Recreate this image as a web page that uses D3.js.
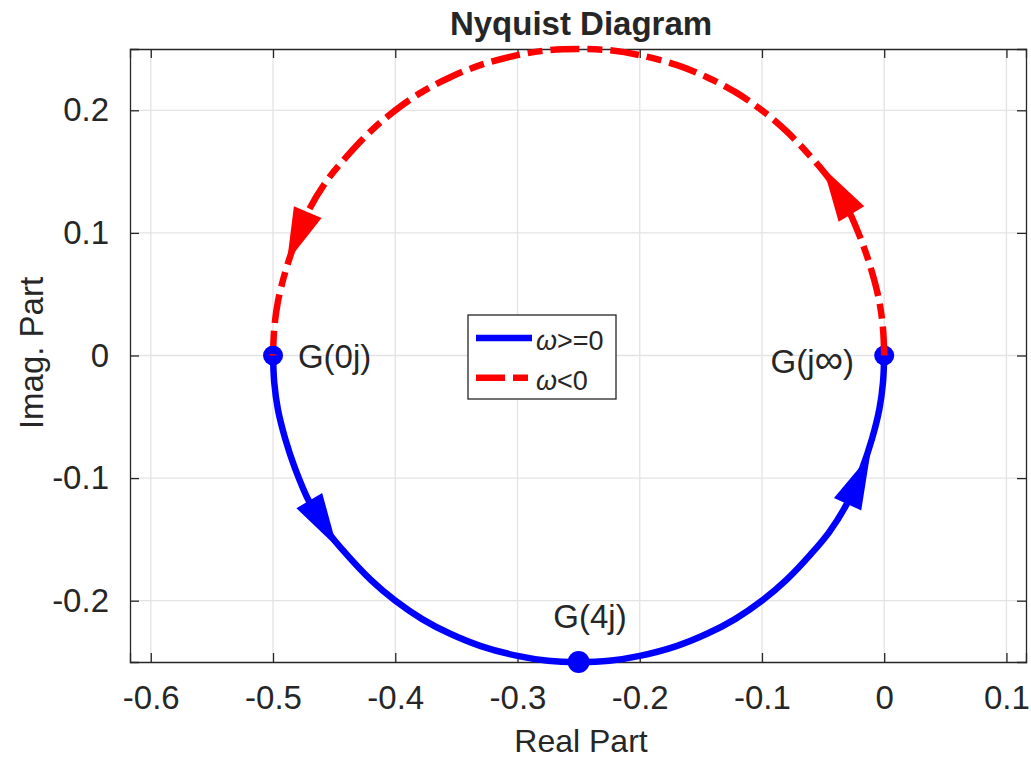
<!DOCTYPE html>
<html>
<head>
<meta charset="utf-8">
<script src="https://cdn.jsdelivr.net/npm/d3@7"></script>
<style>
  body { margin: 0; background: #fff; }
  text { font-family: "Liberation Sans", Arial, Helvetica, sans-serif; fill: #262626; }
</style>
</head>
<body>
<svg id="chart" width="1031" height="759"></svg>
<script>
// Nyquist curve, omega >= 0 (G(0j) -> G(4j) -> G(j inf))
var posReal = [-0.5, -0.499, -0.496, -0.49, -0.482, -0.47, -0.455, -0.44, -0.42, -0.4, -0.378, -0.355, -0.33, -0.3, -0.275, -0.25,
  -0.225, -0.2, -0.17, -0.145, -0.122, -0.1, -0.08, -0.06, -0.045, -0.03, -0.018, -0.01, -0.004, -0.001, 0];
var posImag = [0, -0.022, -0.044, -0.068, -0.092, -0.12, -0.144, -0.162, -0.183, -0.2, -0.215, -0.227, -0.237, -0.245, -0.249, -0.25,
  -0.249, -0.245, -0.237, -0.227, -0.215, -0.2, -0.183, -0.162, -0.144, -0.12, -0.092, -0.068, -0.044, -0.022, 0];

// Nyquist curve, omega < 0 (G(-j inf) -> G(0j))
var negReal = [0, -0.001, -0.004, -0.01, -0.018, -0.03, -0.045, -0.06, -0.08, -0.1, -0.122, -0.145, -0.17, -0.2, -0.225, -0.25,
  -0.275, -0.3, -0.33, -0.355, -0.378, -0.4, -0.42, -0.44, -0.455, -0.47, -0.482, -0.49, -0.496, -0.499, -0.5];
var negImag = [0, 0.022, 0.044, 0.068, 0.092, 0.12, 0.144, 0.162, 0.183, 0.2, 0.215, 0.227, 0.237, 0.245, 0.249, 0.25,
  0.249, 0.245, 0.237, 0.227, 0.215, 0.2, 0.183, 0.162, 0.144, 0.12, 0.092, 0.068, 0.044, 0.022, 0];

// Direction arrows: tail and tip on the curve
var arrowSeries = ['pos', 'pos', 'neg', 'neg'];
var arrowFrom = [[-0.4706, -0.1179], [-0.028, -0.117], [-0.0288, 0.1187], [-0.4712, 0.1179]];
var arrowTo = [[-0.4477, -0.1562], [-0.0116, -0.0812], [-0.0498, 0.153], [-0.4886, 0.0763]];

// Marked points
var pointLabels = ['G(0j)', 'G(4j)', 'G(j\u221e)'];
var pointReal = [-0.5, -0.25, 0];
var pointImag = [0, -0.25, 0];

// Axes
var xTicks = [-0.6, -0.5, -0.4, -0.3, -0.2, -0.1, 0, 0.1];
var yTicks = [-0.2, -0.1, 0, 0.1, 0.2];
var xDomain = [-0.617, 0.116];
var yDomain = [-0.25, 0.25];

var legendLabels = ['>=0', '<0'];

var svg = d3.select('#chart');
var box = { left: 130, top: 49, right: 1026, bottom: 662 };
var axisColor = '#262626';
var blue = '#0000ff';
var red = '#ff0000';

var x = d3.scaleLinear().domain(xDomain).range([box.left, box.right]);
var y = d3.scaleLinear().domain(yDomain).range([box.bottom, box.top]);

// Grid
var grid = svg.append('g');
grid.selectAll('.vgrid').data(xTicks).enter().append('line')
  .attr('x1', function(d) { return x(d); }).attr('x2', function(d) { return x(d); })
  .attr('y1', box.top).attr('y2', box.bottom)
  .attr('stroke', '#e3e3e3').attr('stroke-width', 1.3);
grid.selectAll('.hgrid').data(yTicks).enter().append('line')
  .attr('y1', function(d) { return y(d); }).attr('y2', function(d) { return y(d); })
  .attr('x1', box.left).attr('x2', box.right)
  .attr('stroke', '#e3e3e3').attr('stroke-width', 1.3);

// Axes with inward ticks on all four sides
var tickLen = 9;
var fmt = function(d) { return String(+d.toFixed(1)); };

var xAxisB = d3.axisBottom(x).tickValues(xTicks).tickSize(-tickLen).tickPadding(tickLen + 15).tickFormat(fmt);
var xAxisT = d3.axisTop(x).tickValues(xTicks).tickSize(-tickLen).tickFormat('');
var yAxisL = d3.axisLeft(y).tickValues(yTicks).tickSize(-tickLen).tickPadding(tickLen + 12).tickFormat(fmt);
var yAxisR = d3.axisRight(y).tickValues(yTicks).tickSize(-tickLen).tickFormat('');

var axes = [
  svg.append('g').attr('transform', 'translate(0,' + box.bottom + ')').call(xAxisB),
  svg.append('g').attr('transform', 'translate(0,' + box.top + ')').call(xAxisT),
  svg.append('g').attr('transform', 'translate(' + box.left + ',0)').call(yAxisL),
  svg.append('g').attr('transform', 'translate(' + box.right + ',0)').call(yAxisR)
];
axes.forEach(function(g) {
  g.select('.domain').attr('stroke', axisColor).attr('stroke-width', 1.3);
  g.selectAll('.tick line').attr('stroke', axisColor).attr('stroke-width', 1.3);
  g.selectAll('.tick text').attr('fill', axisColor).style('font-size', '33px')
    .style('font-family', '"Liberation Sans", Arial, sans-serif');
});

// Curves
var line = d3.line()
  .x(function(d) { return x(d[0]); })
  .y(function(d) { return y(d[1]); })
  .curve(d3.curveCatmullRom.alpha(0.5));

var posPts = d3.zip(posReal, posImag);
var negPts = d3.zip(negReal, negImag);

svg.append('path').datum(posPts)
  .attr('d', line).attr('fill', 'none')
  .attr('stroke', blue).attr('stroke-width', 6.5).attr('stroke-linejoin', 'round');

// Markers
svg.selectAll('.marker').data(d3.range(pointLabels.length)).enter().append('circle')
  .attr('cx', function(i) { return x(pointReal[i]); })
  .attr('cy', function(i) { return y(pointImag[i]); })
  .attr('r', function(i) { return i === 1 ? 11 : 10; })
  .attr('fill', blue);

svg.append('path').datum(negPts)
  .attr('d', line).attr('fill', 'none')
  .attr('stroke', red).attr('stroke-width', 6.5)
  .attr('stroke-dasharray', '29,8,15,8');

// Arrow heads
var headLen = 54, headHalf = 15;
svg.selectAll('.arrow').data(d3.range(arrowFrom.length)).enter().append('path')
  .attr('d', function(i) {
    var x0 = x(arrowFrom[i][0]), y0 = y(arrowFrom[i][1]);
    var x1 = x(arrowTo[i][0]), y1 = y(arrowTo[i][1]);
    var len = Math.hypot(x1 - x0, y1 - y0);
    var ux = (x1 - x0) / len, uy = (y1 - y0) / len;
    var bx = x1 - ux * headLen, by = y1 - uy * headLen;
    return 'M' + x1 + ',' + y1 +
      'L' + (bx - uy * headHalf) + ',' + (by + ux * headHalf) +
      'L' + (bx + uy * headHalf) + ',' + (by - ux * headHalf) + 'Z';
  })
  .attr('fill', function(i) { return arrowSeries[i] === 'pos' ? blue : red; });

// Point labels
var labelFont = '33px';
svg.append('text').text(pointLabels[0])
  .attr('x', x(-0.4796)).attr('y', y(-0.0102))
  .style('font-size', labelFont).attr('fill', '#000');
svg.append('text').text(pointLabels[1])
  .attr('x', x(-0.2407)).attr('y', y(-0.222))
  .attr('text-anchor', 'middle').style('font-size', labelFont).attr('fill', '#000');

// G(j inf): the infinity sign is drawn a bit larger, as in the original
var infLabel = svg.append('text')
  .attr('x', x(-0.0247)).attr('y', y(-0.0143))
  .attr('text-anchor', 'end').style('font-size', labelFont).attr('fill', '#000');
infLabel.append('tspan').text(pointLabels[2].slice(0, 3));
infLabel.append('tspan').text(pointLabels[2].slice(3, 4)).style('font-size', '40px');
infLabel.append('tspan').text(pointLabels[2].slice(4));

// Title and axis labels
svg.append('text').text('Nyquist Diagram')
  .attr('x', 581).attr('y', 35).attr('text-anchor', 'middle')
  .style('font-size', '33px').style('font-weight', 'bold').attr('fill', '#000');
svg.append('text').text('Real Part')
  .attr('x', 581).attr('y', 752).attr('text-anchor', 'middle')
  .style('font-size', '32px');
svg.append('text').text('Imag. Part')
  .attr('transform', 'translate(43,353) rotate(-90)').attr('text-anchor', 'middle')
  .style('font-size', '33px');

// Legend
var legend = svg.append('g').attr('transform', 'translate(468,315)');
legend.append('rect').attr('width', 148).attr('height', 84)
  .attr('fill', '#fff').attr('stroke', axisColor).attr('stroke-width', 1.3);
legendLabels.forEach(function(lab, i) {
  var ly = 23 + i * 39.7;
  legend.append('line').attr('x1', 8).attr('x2', 64).attr('y1', ly).attr('y2', ly)
    .attr('stroke', i === 0 ? blue : red).attr('stroke-width', 6.5)
    .attr('stroke-dasharray', i === 0 ? null : '29,8,15,8');
  var t = legend.append('text').attr('x', 68).attr('y', ly + 12).style('font-size', '27px');
  t.append('tspan').text('\u03c9').style('font-style', 'italic');
  t.append('tspan').text(lab);
});
</script>
</body>
</html>
